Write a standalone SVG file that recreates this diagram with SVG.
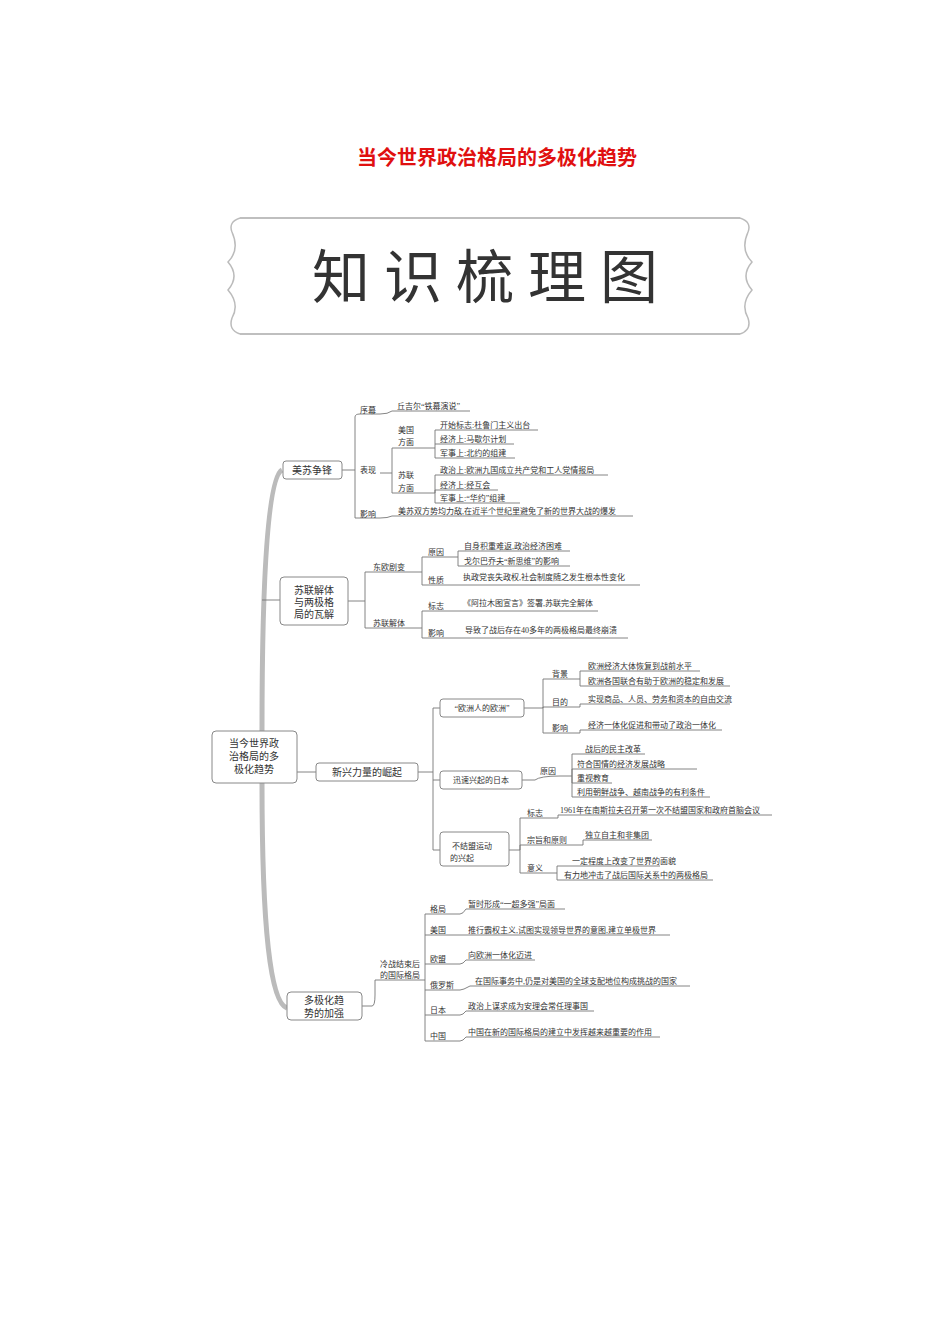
<svg xmlns="http://www.w3.org/2000/svg" width="950" height="1344" viewBox="0 0 950 1344">
<style>
text{font-family:"Liberation Serif","Noto Sans CJK SC",serif;fill:#333;font-size:8px}
.n{fill:#fff;stroke:#888;stroke-width:1}
.c{fill:none;stroke:#777;stroke-width:0.9}
.t{font-size:10px}
</style>
<rect width="950" height="1344" fill="#fff"/>
<text x="497" y="165" text-anchor="middle" style="font-family:'Noto Sans CJK SC',sans-serif;font-size:20px;font-weight:bold;fill:#e01010">当今世界政治格局的多极化趋势</text>
<g id="banner">
<path d="M240 218 H740 M240 334 H740" stroke="#aaa" stroke-width="1.5" fill="none"/>
<path d="M240 218 Q228 222 232 232 Q240 250 228 262 Q240 276 228 290 Q240 304 232 318 Q228 330 240 334" stroke="#bbb" stroke-width="1.5" fill="none"/>
<path d="M740 218 Q752 222 748 232 Q740 250 752 262 Q740 276 752 290 Q740 304 748 318 Q752 330 740 334" stroke="#bbb" stroke-width="1.5" fill="none"/>
<text x="492" y="298" text-anchor="middle" style="font-family:'Noto Sans CJK SC',sans-serif;font-size:58px;fill:#333;letter-spacing:14px">知识梳理图</text>
</g>
<g id="connectors" class="c">
<path d="M282 470 Q262 480 262 731" stroke="#bbb" stroke-width="5" fill="none"/>
<path d="M262 783 Q262 1000 287 1008" stroke="#bbb" stroke-width="5" fill="none"/>
<path d="M262 600 H280" />
<path d="M297 772 H316"/>
<path d="M342 470 H355 M355 470 V417 Q355 414 360 414 H380 Q388 414 392 411 H470 M355 470 V518 H380 Q388 518 392 516 H633"/>
<path d="M380 473 H392 M392 473 V448 H435 M392 473 V493 H435"/>
<path d="M435 448 V430 H538 M435 444 H514 M435 448 V458 H515"/>
<path d="M435 493 V475 H608 M435 493 V490 H498 M435 493 V503 H520"/>
<path d="M348 601 H365 M365 601 V572 H410 M365 601 V628 H410"/>
<path d="M410 572 H422 V557 H450 M422 572 V585 H455"/>
<path d="M450 557 H458 V551 H570 M458 557 V566 H570 M455 585 H640"/>
<path d="M410 628 H422 V611 H450 M422 628 V638 H455 M450 611 H598 M455 638 H628"/>
<path d="M418 772 H433 M433 708 V850 M433 708 H440 M433 780 H440 M433 850 H440"/>
<path d="M524 708 H543 V679 H570 M543 708 V707 H570 M543 708 V733 H570"/>
<path d="M570 679 H580 V671 H700 M580 679 V686 H730 M570 707 H580 V704 H730 M570 733 H580 V730 H722"/>
<path d="M522 780 H535 Q540 776 560 776 H572 M572 776 V754 H645 M572 776 V769 H697 M572 776 V783 H612 M572 776 V797 H710"/>
<path d="M509 850 H520 V818 H550 M520 850 V845 H570 M520 850 V873 H557"/>
<path d="M550 818 H558 V815 H772 M570 845 H583 V840 H652 M557 873 V866 H660 M557 873 V880 H713"/>
<path d="M362 1006 H372 Q375 1006 375 995 V980 H420 M425 980 V1041 M425 980 V914"/>
<path d="M420 980 H425 M425 914 H460 Q463 914 466 909 H565 M425 935 H460 Q463 935 466 935 H670 M425 964 H460 Q463 964 466 960 H535 M425 990 H460 Q463 990 470 986 H690 M425 1015 H460 Q463 1015 466 1011 H594 M425 1041 H460 Q463 1041 466 1037 H660"/>
</g>
<g id="root"><rect class="n" x="212" y="731" width="85" height="52" rx="4"/>
<text class="t" x="254" y="747" text-anchor="middle">当今世界政</text><text class="t" x="254" y="760" text-anchor="middle">治格局的多</text><text class="t" x="254" y="773" text-anchor="middle">极化趋势</text></g>
<g id="n1"><rect class="n" x="283" y="461" width="59" height="18" rx="3"/><text class="t" x="312" y="474" text-anchor="middle">美苏争锋</text></g>
<g id="n2"><rect class="n" x="280" y="577" width="68" height="48" rx="4"/><text class="t" x="314" y="594" text-anchor="middle">苏联解体</text><text class="t" x="314" y="606" text-anchor="middle">与两极格</text><text class="t" x="314" y="618" text-anchor="middle">局的瓦解</text></g>
<g id="n3"><rect class="n" x="316" y="763" width="102" height="18" rx="3"/><text class="t" x="367" y="776" text-anchor="middle">新兴力量的崛起</text></g>
<g id="n4"><rect class="n" x="287" y="992" width="75" height="28" rx="4"/><text class="t" x="324" y="1004" text-anchor="middle">多极化趋</text><text class="t" x="324" y="1017" text-anchor="middle">势的加强</text></g>
<g id="n5"><rect class="n" x="440" y="699" width="84" height="18" rx="3"/><text x="482" y="711" text-anchor="middle">“欧洲人的欧洲”</text></g>
<g id="n6"><rect class="n" x="440" y="771" width="82" height="18" rx="3"/><text x="481" y="783" text-anchor="middle">迅速兴起的日本</text></g>
<g id="n7"><rect class="n" x="440" y="832" width="69" height="34" rx="3"/><text x="472" y="849" text-anchor="middle">不结盟运动</text><text x="462" y="861" text-anchor="middle">的兴起</text></g>
<g id="labels">
<text x="360" y="413">序幕</text><text x="397" y="409">丘吉尔“铁幕演说”</text>
<text x="360" y="473">表现</text>
<text x="398" y="433">美国</text><text x="398" y="445">方面</text>
<text x="440" y="428">开始标志:杜鲁门主义出台</text><text x="440" y="442">经济上:马歇尔计划</text><text x="440" y="456">军事上:北约的组建</text>
<text x="398" y="478">苏联</text><text x="398" y="491">方面</text>
<text x="440" y="473">政治上:欧洲九国成立共产党和工人党情报局</text><text x="440" y="488">经济上:经互会</text><text x="440" y="501">军事上:“华约”组建</text>
<text x="360" y="517">影响</text><text x="398" y="514">美苏双方势均力敌,在近半个世纪里避免了新的世界大战的爆发</text>
<text x="373" y="570">东欧剧变</text><text x="373" y="626">苏联解体</text>
<text x="428" y="555">原因</text><text x="428" y="583">性质</text>
<text x="464" y="549">自身积重难返,政治经济困难</text><text x="464" y="564">戈尔巴乔夫“新思维”的影响</text>
<text x="463" y="580">执政党丧失政权,社会制度随之发生根本性变化</text>
<text x="428" y="609">标志</text><text x="428" y="636">影响</text>
<text x="463" y="606">《阿拉木图宣言》签署,苏联完全解体</text><text x="465" y="633">导致了战后存在40多年的两极格局最终崩溃</text>
<text x="552" y="677">背景</text><text x="552" y="705">目的</text><text x="552" y="731">影响</text>
<text x="588" y="669">欧洲经济大体恢复到战前水平</text><text x="588" y="684">欧洲各国联合有助于欧洲的稳定和发展</text>
<text x="588" y="702">实现商品、人员、劳务和资本的自由交流</text><text x="588" y="728">经济一体化促进和带动了政治一体化</text>
<text x="540" y="774">原因</text>
<text x="585" y="752">战后的民主改革</text><text x="577" y="767">符合国情的经济发展战略</text><text x="577" y="781">重视教育</text><text x="577" y="795">利用朝鲜战争、越南战争的有利条件</text>
<text x="527" y="816">标志</text><text x="527" y="843">宗旨和原则</text><text x="527" y="871">意义</text>
<text x="560" y="813">1961年在南斯拉夫召开第一次不结盟国家和政府首脑会议</text>
<text x="585" y="838">独立自主和非集团</text>
<text x="572" y="864">一定程度上改变了世界的面貌</text><text x="564" y="878">有力地冲击了战后国际关系中的两极格局</text>
<text x="380" y="967">冷战结束后</text><text x="380" y="978">的国际格局</text>
<text x="430" y="912">格局</text><text x="430" y="933">美国</text><text x="430" y="962">欧盟</text><text x="430" y="988">俄罗斯</text><text x="430" y="1013">日本</text><text x="430" y="1039">中国</text>
<text x="468" y="907">暂时形成“一超多强”局面</text>
<text x="468" y="933">推行霸权主义,试图实现领导世界的意图,建立单极世界</text>
<text x="468" y="958">向欧洲一体化迈进</text>
<text x="475" y="984">在国际事务中,仍是对美国的全球支配地位构成挑战的国家</text>
<text x="468" y="1009">政治上谋求成为安理会常任理事国</text>
<text x="468" y="1035">中国在新的国际格局的建立中发挥越来越重要的作用</text>
</g>
</svg>
